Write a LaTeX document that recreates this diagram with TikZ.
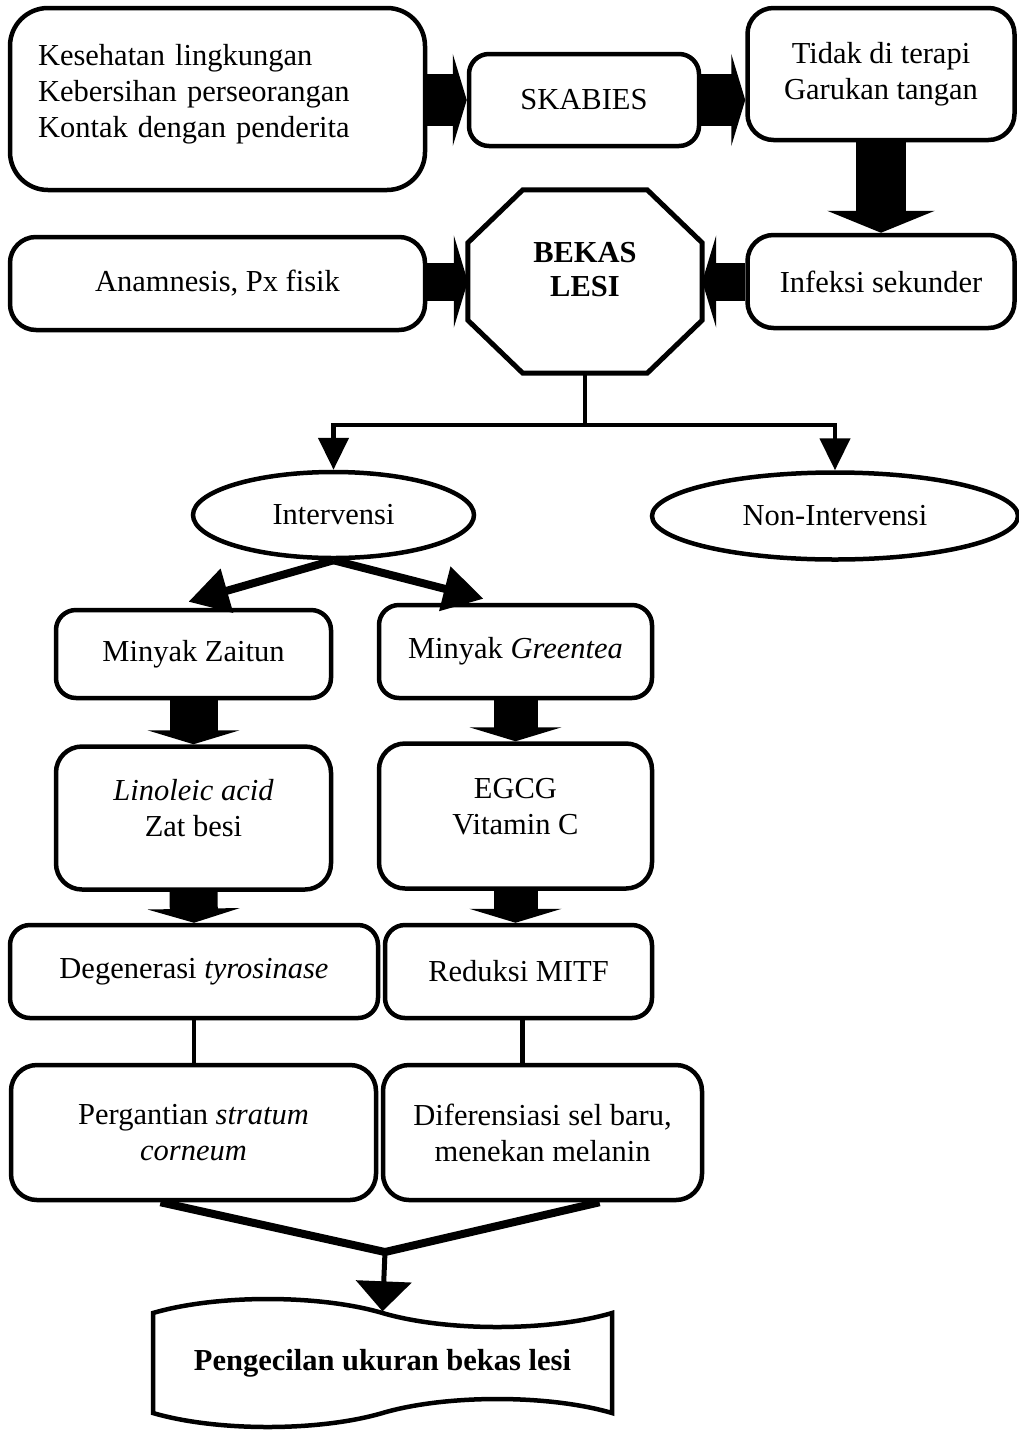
\documentclass[tikz,border=0pt]{standalone}
\usepackage{fontspec}
\setmainfont{Liberation Serif}
\usetikzlibrary{shapes.geometric,shapes.symbols,arrows.meta}

\begin{document}
\begin{tikzpicture}[x=1pt, y=-1pt,
	every node/.style={font=\fontsize{30.5}{36}\selectfont},
	box/.style={draw, line width=4.5pt, rounded corners=26pt, align=center, inner sep=0pt},
	oval/.style={draw, ellipse, line width=4.5pt, inner sep=0pt},
	blockarrow/.style={line width=50pt, -{Triangle[length=14pt, width=92pt]}},
	thinline/.style={line width=4.5pt},
	thinarrow/.style={line width=4.5pt, -{Triangle[length=32pt, width=30pt]}},
	fatarrow/.style={line width=8pt, -{Triangle[length=40pt, width=44pt]}}]
		\useasboundingbox (0,0) rectangle (1018,1433);

		% Draw the causes and the disease
		\node (kes) [box, rounded corners=38pt, minimum width=415pt, minimum height=182pt, text width=359pt, align=left, text depth=89pt] at (217.5,99) {Kesehatan lingkungan\\Kebersihan perseorangan\\Kontak dengan penderita};
		\node (skab) [box, rounded corners=20pt, minimum width=230pt, minimum height=92pt] at (584,100) {SKABIES};
		\node (tidak) [box, minimum width=267pt, minimum height=132pt] at (881,74) {Tidak di terapi\\Garukan tangan};

		% Draw the second row
		\node (anam) [box, minimum width=415pt, minimum height=93pt] at (217.5,283.5) {Anamnesis, Px fisik};
		\node (lesi) [minimum width=234pt, minimum height=183pt, inner sep=0pt, align=center, text depth=24pt, font=\fontsize{30.5}{34}\selectfont\bfseries] at (585,281.5) {BEKAS\\LESI};
		\draw[line width=5pt] ([xshift=55pt]lesi.north west) -- ([xshift=-55pt]lesi.north east) -- ([yshift=-53pt]lesi.north east) -- ([yshift=53pt]lesi.south east) -- ([xshift=-55pt]lesi.south east) -- ([xshift=55pt]lesi.south west) -- ([yshift=53pt]lesi.south west) -- ([yshift=-53pt]lesi.north west) -- cycle;
		\node (infek) [box, minimum width=267pt, minimum height=93pt] at (881,281.5) {Infeksi sekunder};

		% Draw the two branches
		\node (interv) [oval, minimum width=281pt, minimum height=86pt] at (333.5,515) {Intervensi};
		\node (noninterv) [oval, minimum width=366pt, minimum height=87pt] at (835,516) {Non-Intervensi};

		% Draw the olive oil column
		\node (zaitun) [box, rounded corners=20pt, minimum width=275pt, minimum height=88pt] at (193.5,654) {Minyak Zaitun};
		\node (lino) [box, minimum width=275pt, minimum height=143pt, text depth=20pt] at (193.5,818) {\textit{Linoleic acid}\\Zat besi};
		\node (degen) [box, rounded corners=20pt, minimum width=368pt, minimum height=93pt] at (194,971.5) {Degenerasi \textit{tyrosinase}};
		\node (pergan) [box, minimum width=365pt, minimum height=135pt] at (193.5,1132.5) {Pergantian \textit{stratum}\\\textit{corneum}};

		% Draw the green tea column
		\node (green) [box, rounded corners=20pt, minimum width=273pt, minimum height=93pt] at (515.5,651.5) {Minyak \textit{Greentea}};
		\node (egcg) [box, minimum width=273pt, minimum height=145pt, text depth=20pt] at (515.5,816) {EGCG\\Vitamin C};
		\node (reduk) [box, rounded corners=20pt, minimum width=267pt, minimum height=93pt] at (518.5,971.5) {Reduksi MITF};
		\node (difer) [box, minimum width=319pt, minimum height=135pt] at (542.5,1132.5) {Diferensiasi sel baru,\\menekan melanin};

		% Draw the result
		\node (hasil) [tape, draw, line width=4.5pt, tape bend top=out and in, tape bend bottom=in and out, tape bend height=28pt, minimum width=459pt, minimum height=128pt, font=\fontsize{30.5}{36}\selectfont\bfseries] at (382.5,1363) {Pengecilan ukuran bekas lesi};
		\coordinate (merge) at (385,1252);

		% Connect the blocks with fat arrows
		\draw[blockarrow, line width=52pt] (kes.east |- skab.west) -- (skab.west);
		\draw[blockarrow, line width=52pt] (skab.east) -- (skab.east -| tidak.west);
		\draw[blockarrow, -{Triangle[length=22pt, width=107pt]}] (tidak.south) -- (tidak.south |- infek.north);
		\draw[blockarrow, line width=38pt] (anam.east |- lesi.west) -- (lesi.west);
		\draw[blockarrow, line width=38pt] (infek.west) -- (lesi.east);
		\draw[blockarrow, line width=48pt] (zaitun.south) -- (lino.north);
		\draw[blockarrow, line width=44pt] (green.south) -- (egcg.north);
		\draw[blockarrow, line width=48pt] (lino.south) -- (degen.north);
		\draw[blockarrow, line width=44pt] (egcg.south) -- (egcg.south |- reduk.north);

		% Connect the branches
		\draw[thinarrow] (lesi.south) -- ++(0,52) -| (interv.north);
		\draw[thinarrow] (lesi.south) -- ++(0,52) -| (noninterv.north);
		\draw[fatarrow] (interv.south) -- ([yshift=6pt, xshift=-5pt]zaitun.north);
		\draw[fatarrow] (interv.south) -- ([yshift=4pt, xshift=-32pt]green.north);

		% Connect the lower rows
		\draw[thinline] (degen.south) -- (degen.south |- pergan.north);
		\draw[thinline] ([xshift=4pt]reduk.south) -- ([xshift=4pt]reduk.south |- difer.north);
		\draw[line width=8pt] ([xshift=-33pt]pergan.south) -- (merge);
		\draw[line width=8pt] ([xshift=57pt]difer.south) -- (merge);
		\draw[line width=5pt, -{Triangle[length=30pt, width=55pt]}] (merge) -- (hasil.north);
\end{tikzpicture}
\end{document}
